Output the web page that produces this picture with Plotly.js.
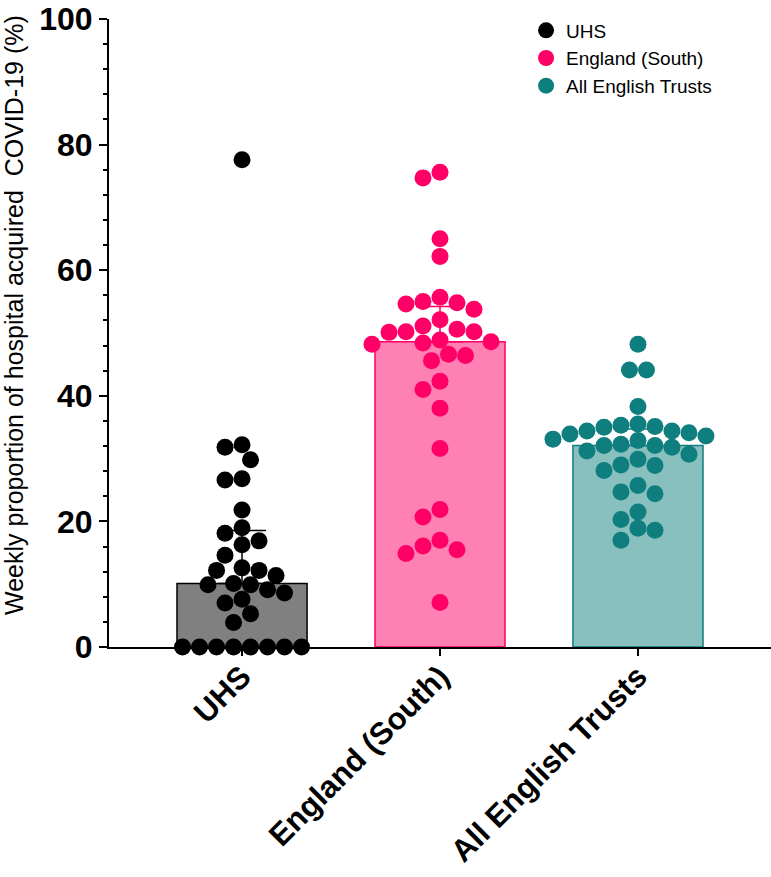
<!DOCTYPE html>
<html>
<head>
<meta charset="utf-8">
<script src="https://cdn.plot.ly/plotly-3.0.1.min.js"></script>
<style>html,body{margin:0;padding:0;background:#fff;}#chart{width:771px;height:877px;}</style>
</head>
<body>
<div id="chart"></div>
<script>
// ---- data ----
const categories = ["UHS", "England (South)", "All English Trusts"];
const uhsValues = [77.6, 32.2, 31.8, 29.8, 26.8, 26.6, 21.8, 19.0, 18.1, 16.9, 16.3, 14.6,
  12.6, 12.2, 12.2, 11.4, 10.1, 9.9, 9.9, 9.1, 8.6, 7.6, 7.0, 5.3, 3.9,
  0, 0, 0, 0, 0, 0, 0, 0];
const englandSouthValues = [75.6, 74.7, 65.0, 62.2, 55.7, 55.0, 54.8, 54.6, 53.8, 52.1, 51.1,
  50.6, 50.2, 50.2, 50.1, 48.9, 48.6, 48.4, 48.2, 46.6, 46.4, 45.6, 42.3, 41.0, 38.0,
  31.6, 21.9, 20.7, 17.0, 16.1, 15.5, 14.9, 7.1];
const allEnglishValues = [48.2, 44.1, 44.1, 38.3, 35.5, 35.3, 35.1, 35.0, 34.4, 34.4, 34.1,
  33.9, 33.6, 33.1, 32.9, 32.3, 32.1, 32.1, 31.8, 31.2, 30.7, 29.9, 29.0, 28.9, 28.1,
  25.7, 24.7, 24.4, 21.5, 20.3, 18.9, 18.6, 17.0];
const groups = [uhsValues, englandSouthValues, allEnglishValues];
const yTitle = "Weekly proportion of hospital acquired\u00a0 COVID-19 (%)";

// ---- styles ----
const dotColors = ["#000000", "#FF0066", "#0F7E7E"];
const barFill = ["#808080", "#FF80B3", "#88BFBF"];
const barLine = ["#000000", "#FF0066", "#0F7E7E"];

// ---- layout geometry ----
const W = 771, H = 877;
const M = {l: 109, r: 0, t: 19, b: 230};
const xRange = [-0.672, 2.672];
const yRange = [0, 100];
const plotW = W - M.l - M.r, plotH = H - M.t - M.b;
const pxPerX = plotW / (xRange[1] - xRange[0]);
const pxPerY = plotH / (yRange[1] - yRange[0]);
const dotSize = 17;

function quantile(vals, p) {
  const s = vals.slice().sort((a, b) => a - b);
  const pos = p * (s.length + 1) - 1;
  const lo = Math.floor(pos), hi = Math.ceil(pos);
  return s[lo] + (s[hi] - s[lo]) * (pos - lo);
}

// deterministic beeswarm: place points (high to low) on half-diameter slots
function swarm(vals, center) {
  const order = vals.map((v, i) => i).sort((a, b) => vals[b] - vals[a]);
  const pos = new Array(vals.length);
  const step = dotSize / 2;
  const lim = dotSize * 0.96;
  const free = (xp, yp, skip) => vals.every((v, j) =>
    pos[j] === undefined || skip.has(j) || Math.hypot(pos[j][0] - xp, pos[j][1] - yp) >= lim);
  for (const i of order) {
    const yp = vals[i] * pxPerY;
    for (let k = 0; k < 400; k++) {
      const m = k === 0 ? 0 : (k % 2 ? -Math.ceil(k / 2) : Math.ceil(k / 2));
      if (free(m * step, yp, new Set())) { pos[i] = [m * step, yp]; break; }
    }
  }
  // centre runs of identical values when that causes no overlap
  const seen = new Set();
  vals.forEach((v) => {
    if (seen.has(v)) return; seen.add(v);
    const ids = vals.map((w, j) => w === v ? j : -1).filter(j => j >= 0);
    if (ids.length < 2) return;
    const mean = ids.reduce((s, j) => s + pos[j][0], 0) / ids.length;
    const skip = new Set(ids);
    if (ids.every(j => free(pos[j][0] - mean, pos[j][1], skip))) ids.forEach(j => { pos[j][0] -= mean; });
  });
  return pos.map(p => center + p[0] / pxPerX);
}

const traces = [];
groups.forEach((vals, g) => {
  const med = quantile(vals, 0.5);
  const q3 = quantile(vals, 0.75);
  traces.push({
    type: "bar", x: [g], y: [med], width: 0.657, showlegend: false, hoverinfo: "skip",
    marker: {color: barFill[g], line: {color: barLine[g], width: 1.5}},
    error_y: {type: "data", symmetric: false, array: [q3 - med], arrayminus: [0],
      color: barLine[g], thickness: 1.5, width: 24}
  });
});
groups.forEach((vals, g) => {
  traces.push({
    type: "scatter", mode: "markers", name: categories[g], legendgroup: "g" + g,
    x: swarm(vals, g), y: vals, cliponaxis: false,
    marker: {size: dotSize, color: dotColors[g], line: {width: 0}}
  });
});

const layout = {
  width: W, height: H, margin: M,
  paper_bgcolor: "#fff", plot_bgcolor: "#fff",
  barmode: "overlay", showlegend: true,
  font: {family: "Arial, 'Liberation Sans', sans-serif", color: "#000"},
  xaxis: {
    range: xRange, tickmode: "array", tickvals: [0, 1, 2], ticktext: categories,
    tickangle: -45, ticks: "outside", ticklen: 7, tickwidth: 2, tickcolor: "#000",
    ticklabelstandoff: -10,
    showline: true, linewidth: 2, linecolor: "#000", showgrid: false, zeroline: false,
    tickfont: {size: 31, weight: 700, family: "Arial, 'Liberation Sans', sans-serif"}
  },
  yaxis: {
    range: yRange, tickmode: "array", tickvals: [0, 20, 40, 60, 80, 100],
    ticks: "outside", ticklen: 8, tickwidth: 2, tickcolor: "#000",
    minor: {tickmode: "linear", tick0: 0, dtick: 4, ticks: "outside", ticklen: 4, tickwidth: 2, tickcolor: "#000", showgrid: false},
    showline: true, linewidth: 2, linecolor: "#000", showgrid: false, zeroline: false,
    tickfont: {size: 32, weight: 700, family: "Arial, 'Liberation Sans', sans-serif"}
  },
  annotations: [{
    text: yTitle, textangle: -90, showarrow: false,
    xref: "paper", yref: "paper", x: (14 - M.l) / plotW, y: (H - M.b - 315) / plotH,
    xanchor: "center", yanchor: "middle", font: {size: 25}
  }],
  legend: {x: 0.63, y: 1.012, xanchor: "left", yanchor: "top", font: {size: 19},
    bgcolor: "rgba(0,0,0,0)", tracegroupgap: 0, itemsizing: "trace"}
};

Plotly.newPlot("chart", traces, layout, {displayModeBar: false, staticPlot: true});
</script>
</body>
</html>
